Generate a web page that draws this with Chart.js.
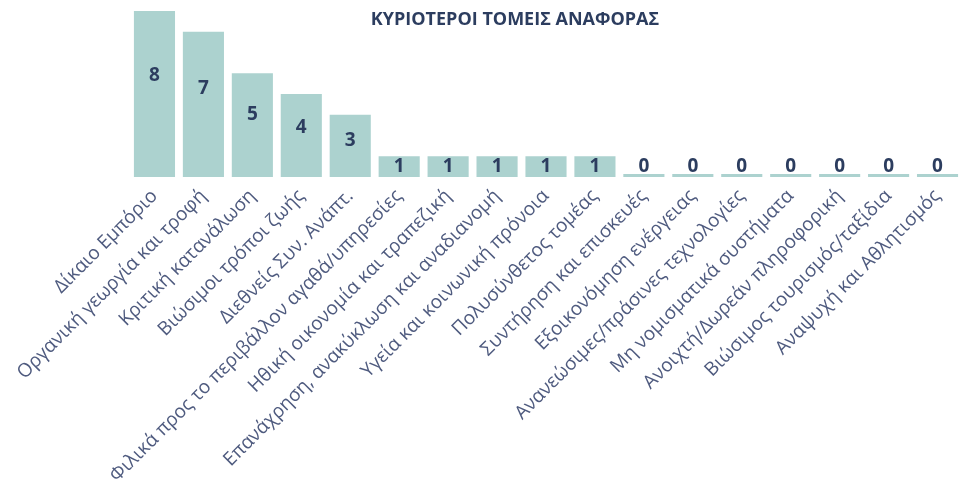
<!DOCTYPE html>
<html>
<head>
<meta charset="utf-8">
<script src="https://cdn.jsdelivr.net/npm/chart.js@4.4.1/dist/chart.umd.min.js"></script>
<style>
  html, body { margin: 0; padding: 0; background: #ffffff; }
  #wrap { width: 962px; height: 488px; position: relative; }
</style>
</head>
<body>
<div id="wrap"><canvas id="c" width="962" height="488"></canvas></div>
<script>
const title = "ΚΥΡΙΟΤΕΡΟΙ ΤΟΜΕΙΣ ΑΝΑΦΟΡΑΣ";
const categories = [
  "Δίκαιο Εμπόριο",
  "Οργανική γεωργία και τροφή",
  "Κριτική κατανάλωση",
  "Βιώσιμοι τρόποι ζωής",
  "Διεθνείς Συν. Ανάπτ.",
  "Φιλικά προς το περιβάλλον αγαθά/υπηρεσίες",
  "Ηθική οικονομία και τραπεζική",
  "Επανάχρηση, ανακύκλωση και αναδιανομή",
  "Υγεία και κοινωνική πρόνοια",
  "Πολυσύνθετος τομέας",
  "Συντήρηση και επισκευές",
  "Εξοικονόμηση ενέργειας",
  "Ανανεώσιμες/πράσινες τεχνολογίες",
  "Μη νομισματικά συστήματα",
  "Ανοιχτή/Δωρεάν πληροφορική",
  "Βιώσιμος τουρισμός/ταξίδια",
  "Αναψυχή και Αθλητισμός"
];
const values = [8, 7, 5, 4, 3, 1, 1, 1, 1, 1, 0, 0, 0, 0, 0, 0, 0];

const BAR_COLOR = "#acd2cf";
const VALUE_COLOR = "#2c3d5f";
const TICK_COLOR = "#4f5b7f";
const FONT = "'Open Sans', sans-serif";

const overlay = {
  id: "overlay",
  afterDatasetsDraw(chart) {
    const ctx = chart.ctx;
    const meta = chart.getDatasetMeta(0);
    const yScale = chart.scales.y;
    ctx.save();
    ctx.fillStyle = VALUE_COLOR;
    ctx.font = "bold 19px " + FONT;
    ctx.textAlign = "center";
    ctx.textBaseline = "middle";
    meta.data.forEach((bar, i) => {
      const v = values[i];
      const pos = Math.max(0.63 * v - 0.15, 0.48);
      ctx.fillText(String(v), bar.x, yScale.getPixelForValue(pos));
    });
    // title
    ctx.font = "bold 18px " + FONT;
    ctx.fillStyle = "#2c3d5f";
    ctx.fillText(title, 515, 20);
    ctx.restore();
  }
};

new Chart(document.getElementById("c"), {
  type: "bar",
  data: {
    labels: categories,
    datasets: [{
      data: values,
      backgroundColor: BAR_COLOR,
      borderWidth: 0,
      barPercentage: 0.84,
      categoryPercentage: 1.0,
      minBarLength: 3
    }]
  },
  options: {
    responsive: false,
    animation: false,
    devicePixelRatio: 1,
    layout: { padding: { left: 130, right: -3, top: 11, bottom: 0 } },
    plugins: { legend: { display: false }, tooltip: { enabled: false }, title: { display: false } },
    scales: {
      x: {
        grid: { display: false, drawTicks: false },
        border: { display: false },
        ticks: {
          color: TICK_COLOR,
          font: { family: FONT, size: 19 },
          maxRotation: 45,
          minRotation: 45,
          autoSkip: false,
          padding: 8
        },
        afterFit(scale) {
          scale.height = 311;
          scale.paddingLeft = 0;
          scale.paddingRight = 0;
        }
      },
      y: {
        display: false,
        min: 0,
        max: 8
      }
    }
  },
  plugins: [overlay]
});
</script>
</body>
</html>
